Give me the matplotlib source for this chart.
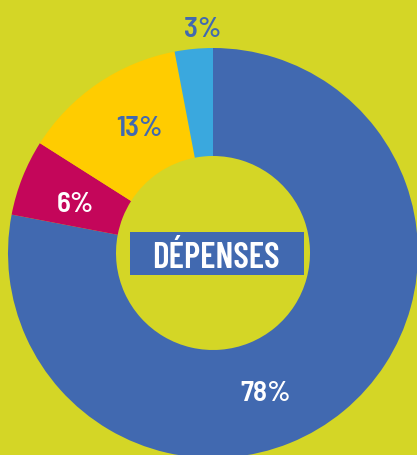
import matplotlib
matplotlib.use("Agg")
import matplotlib.pyplot as plt
from matplotlib.patches import Rectangle

# Data
categories = ["Poste 1", "Poste 2", "Poste 3", "Poste 4"]
values = [78, 6, 13, 3]
labels = ["78%", "6%", "13%", "3%"]
colors = ["#4169b0", "#c4065a", "#ffcc00", "#3aa8de"]
label_colors = ["white", "white", "#4169b0", "#4169b0"]
label_weights = [600, 600, 600, 600]
title_text = "DÉPENSES"

BG = "#d4d626"
W, H = 417, 456

fig = plt.figure(figsize=(W / 100, H / 100), dpi=100, facecolor=BG)
ax = fig.add_axes([0, 0, 1, 1])
ax.set_facecolor(BG)

cx, cy = 213, H - 254
R, r_in = 205, 97

wedges, _ = ax.pie(values, colors=colors, startangle=90, counterclock=False,
                   center=(cx, cy), radius=R, frame=True,
                   wedgeprops=dict(width=R - r_in, linewidth=0))
ax.set_xlim(0, W)
ax.set_ylim(0, H)
ax.set_aspect("equal")
ax.axis("off")

lab_font = ["Barlow Semi Condensed", "DejaVu Sans"]
# label baseline positions (pixel layout)
label_pos = [(265.5, H - 400.7), (75.5, H - 211.7), (139, H - 135.7), (202.5, H - 36.7)]
for lab, (x, y), c, w in zip(labels, label_pos, label_colors, label_weights):
    ax.text(x, y, lab, ha="center", va="baseline", color=c, fontsize=21,
            fontweight=w, family=lab_font)

ax.add_patch(Rectangle((130, H - 276), 174, 43, facecolor="#4169b0",
                       edgecolor="none", zorder=5))
ax.text(216, H - 268.3, title_text, ha="center", va="baseline", color="white",
        fontsize=25.5, fontweight=600, family=["Barlow Condensed", "DejaVu Sans"],
        zorder=6)

fig.savefig("out.png", dpi=100, facecolor=BG)
